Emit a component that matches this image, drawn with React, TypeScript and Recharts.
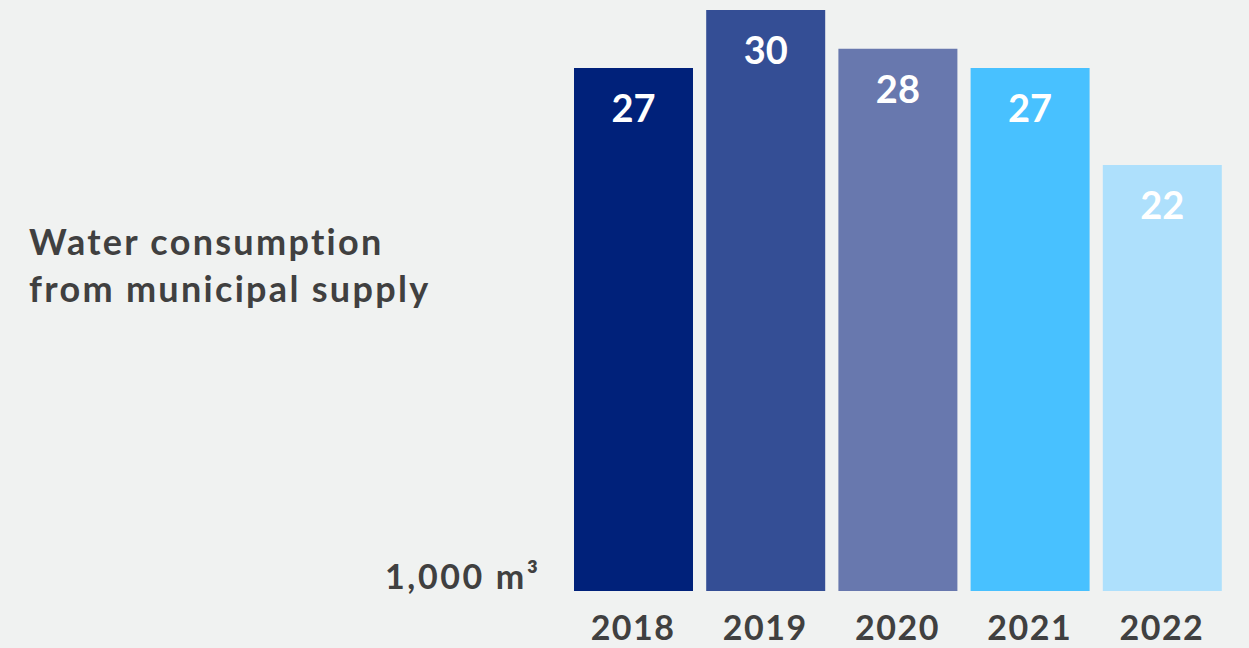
import React from "react";
import { BarChart, Bar, XAxis, YAxis, Cell, LabelList } from "recharts";

const years = ["2018", "2019", "2020", "2021", "2022"];
const values = [27, 30, 28, 27, 22];
const colors = ["#00217a", "#344e95", "#6878ae", "#48c1ff", "#aee0fc"];
const titleLines = ["Water consumption", "from municipal supply"];
const unitLabel = "1,000 m³";

const data = years.map((y, i) => ({ year: y, value: values[i] }));

const FONT = "Lato, 'Open Sans', sans-serif";
const TEXT = "#404040";

const YearTick = (props: any) => {
  const { x, y, payload } = props;
  return (
    <text x={x} y={y + 49} textAnchor="middle" fill={TEXT} fontFamily={FONT} fontWeight={700} fontSize={34} letterSpacing={1.5}>
      {payload.value}
    </text>
  );
};

const ValueLabel = (props: any) => {
  const { x, y, width, value } = props;
  return (
    <text x={x + width / 2} y={y + 54} textAnchor="middle" fill="#ffffff" fontFamily={FONT} fontWeight={700} fontSize={38}>
      {value}
    </text>
  );
};

export default function App() {
  return (
    <div style={{ position: "absolute", left: 0, top: 0, width: 1249, height: 648, background: "#f0f2f1", fontFamily: FONT }}>
      <div style={{ position: "absolute", left: 29, top: 218, color: TEXT, fontWeight: 700, fontSize: 36, lineHeight: "47px", letterSpacing: "2.3px", whiteSpace: "nowrap" }}>
        {titleLines.map((l) => (
          <div key={l}>{l}</div>
        ))}
      </div>
      <div style={{ position: "absolute", left: 385, top: 556, color: TEXT, fontWeight: 700, fontSize: 34, lineHeight: "40px", letterSpacing: "2.6px", whiteSpace: "nowrap" }}>
        {unitLabel}
      </div>
      <div style={{ position: "absolute", left: 0, top: 0 }}>
        <BarChart width={1249} height={648} data={data} margin={{ top: 10, right: 21, left: 567, bottom: 0 }}>
          <YAxis hide domain={[0, 30]} width={0} />
          <XAxis dataKey="year" axisLine={false} tickLine={false} tickSize={0} tickMargin={0} height={57} tick={<YearTick />} interval={0} />
          <Bar dataKey="value" barSize={119} isAnimationActive={false}>
            {data.map((d, i) => (
              <Cell key={d.year} fill={colors[i]} />
            ))}
            <LabelList dataKey="value" content={<ValueLabel />} />
          </Bar>
        </BarChart>
      </div>
    </div>
  );
}
